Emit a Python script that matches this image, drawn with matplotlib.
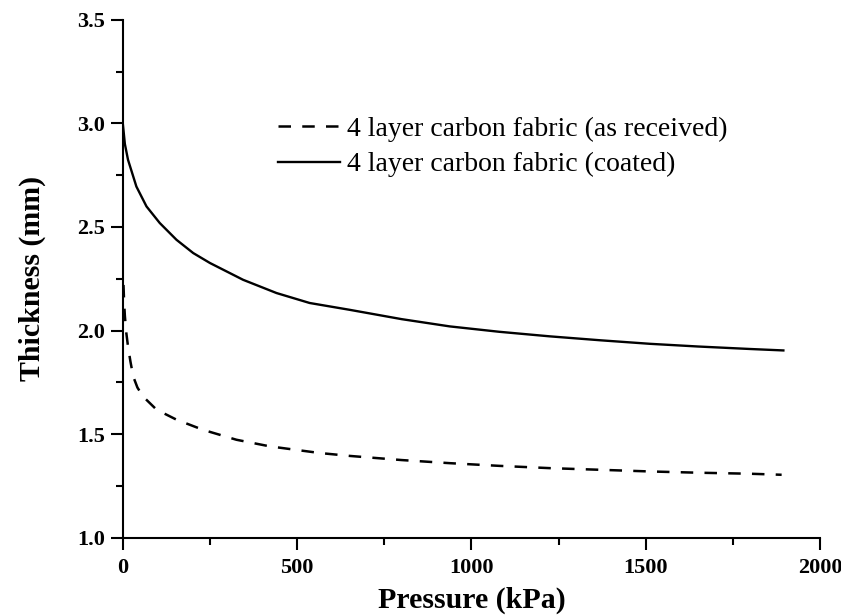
import matplotlib.pyplot as plt
from matplotlib.ticker import MultipleLocator

# values
pressure_coated = [0, 3, 6, 15, 39, 68, 106, 154, 202, 250, 345, 441, 536, 651,
                   800, 938, 1080, 1225, 1370, 1512, 1650, 1799, 1895]
thick_coated = [3.00, 2.95, 2.90, 2.824, 2.695, 2.599, 2.519, 2.438, 2.374, 2.326, 2.245, 2.181, 2.133, 2.10,
                2.055, 2.02, 1.994, 1.972, 1.953, 1.936, 1.923, 1.911, 1.904]

pressure_received = [2, 4, 6, 10, 15, 22, 30, 42, 58, 97, 154, 230, 326, 422, 565, 651,
                     800, 938, 1080, 1225, 1370, 1512, 1650, 1799, 1890]
thick_received = [2.22, 2.13, 2.07, 1.99, 1.923, 1.85, 1.778, 1.725, 1.682, 1.618, 1.570, 1.521, 1.473, 1.441,
                  1.409, 1.395, 1.375, 1.360, 1.347, 1.336, 1.328, 1.320, 1.314, 1.309, 1.304]

label_received = '4 layer carbon fabric (as received)'
label_coated = '4 layer carbon fabric (coated)'


def main():
    plt.rcParams['font.family'] = ['Liberation Serif', 'DejaVu Serif']
    fig = plt.figure(figsize=(8.41, 6.16), dpi=100)
    ax = fig.add_axes([0.146, 0.127, 0.829, 0.841])

    ax.plot(pressure_received, thick_received, color='black', ls='--', lw=1.8, dashes=(5, 4.5),
            label=label_received)
    ax.plot(pressure_coated, thick_coated, color='black', ls='-', lw=1.7, label=label_coated)

    ax.set_xlim(0, 2000)
    ax.set_ylim(1.0, 3.5)
    ax.xaxis.set_major_locator(MultipleLocator(500))
    ax.xaxis.set_minor_locator(MultipleLocator(250))
    ax.yaxis.set_major_locator(MultipleLocator(0.5))
    ax.yaxis.set_minor_locator(MultipleLocator(0.25))
    ax.yaxis.set_major_formatter(plt.FormatStrFormatter('%.1f'))

    for side in ['top', 'right']:
        ax.spines[side].set_visible(False)
    for side in ['left', 'bottom']:
        ax.spines[side].set_linewidth(1.5)
    ax.tick_params(which='major', direction='out', length=8.5, width=1.5, labelsize=16)
    ax.tick_params(which='minor', direction='out', length=5, width=1.5)
    ax.tick_params(axis='x', which='major', pad=6)
    ax.tick_params(axis='y', which='major', pad=4)
    for lab in ax.get_xticklabels() + ax.get_yticklabels():
        lab.set_fontweight('bold')

    ax.set_xlabel('Pressure (kPa)', fontsize=21.5, fontweight='bold', labelpad=6)
    ax.set_ylabel('Thickness (mm)', fontsize=21.5, fontweight='bold', labelpad=23)

    ax.legend(loc='upper left', bbox_to_anchor=(0.1865, 0.862), frameon=False, fontsize=20,
              handlelength=2.25, handletextpad=0.25, labelspacing=0.37)

    fig.savefig('out.png', dpi=100)


main()
